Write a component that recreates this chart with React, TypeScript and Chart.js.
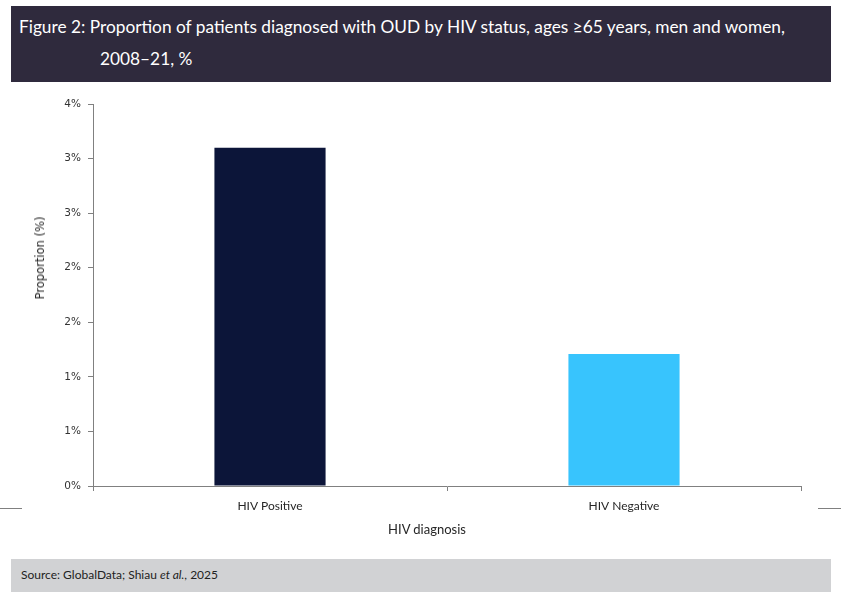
import React, { useEffect, useRef } from "react";
import { Chart, registerables } from "chart.js";

Chart.register(...registerables);

const categories = ["HIV Positive", "HIV Negative"];
const proportions = [3.1, 1.21];
const barColors = ["#0c1539", "#38c4fd"];
const yMax = 3.5;
const yStep = 0.5;
const titleLines = [
  "Figure 2: Proportion of patients diagnosed with OUD by HIV status, ages \u226565 years, men and women,",
  "2008\u201321, %",
];
const xAxisTitle = "HIV diagnosis";
const yAxisTitle = "Proportion (%)";

export default function App() {
  const ref = useRef<HTMLCanvasElement | null>(null);

  useEffect(() => {
    if (!ref.current) return;
    const chart = new Chart(ref.current, {
      type: "bar",
      data: {
        labels: categories,
        datasets: [
          {
            data: proportions,
            backgroundColor: barColors,
            borderWidth: 0,
            categoryPercentage: 1,
            barPercentage: 0.314,
          },
        ],
      },
      options: {
        responsive: false,
        animation: false,
        events: [],
        layout: { padding: { left: 0, right: 40, top: 14, bottom: 0 } },
        plugins: { legend: { display: false }, tooltip: { enabled: false } },
        scales: {
          x: {
            offset: true,
            grid: {
              display: true,
              offset: true,
              drawOnChartArea: false,
              drawTicks: true,
              tickLength: 5,
              color: "#808080",
            },
            border: { display: true, color: "#808080", width: 1 },
            ticks: {
              color: "#262626",
              padding: 8,
              font: { family: "Lato", size: 12 },
            },
            afterFit: (s: any) => {
              s.height = 64;
            },
          },
          y: {
            min: 0,
            max: yMax,
            grid: {
              display: true,
              drawOnChartArea: false,
              drawTicks: true,
              tickLength: 5,
              color: "#808080",
            },
            border: { display: true, color: "#808080", width: 1 },
            ticks: {
              stepSize: yStep,
              color: "#333333",
              padding: 7,
              font: { family: "DejaVu Sans", size: 10.5 },
              callback: (v: any) => Math.round(Number(v)) + "%",
            },
            afterFit: (s: any) => {
              s.width = 93;
            },
          },
        },
      },
    });
    return () => chart.destroy();
  }, []);

  return (
    <div
      style={{
        position: "absolute",
        left: 0,
        top: 0,
        width: 841,
        height: 594,
        background: "#ffffff",
        overflow: "hidden",
      }}
    >
      <div
        style={{
          position: "absolute",
          left: 11,
          top: 6,
          width: 820,
          height: 76,
          background: "#2f2a3d",
          color: "#ffffff",
          fontFamily: "Lato, sans-serif",
          fontSize: 17.3,
        }}
      >
        <div style={{ position: "absolute", left: 8, top: 10, whiteSpace: "nowrap" }}>{titleLines[0]}</div>
        <div style={{ position: "absolute", left: 89, top: 42, whiteSpace: "nowrap" }}>{titleLines[1]}</div>
      </div>
      <canvas
        ref={ref}
        width={841}
        height={460}
        style={{ position: "absolute", left: 0, top: 90, width: 841, height: 460 }}
      />
      <div
        style={{
          position: "absolute",
          left: 40,
          top: 258,
          transform: "translate(-50%, -50%) rotate(-90deg)",
          fontFamily: "DejaVu Sans, sans-serif",
          fontSize: 11.5,
          color: "#262626",
          whiteSpace: "nowrap",
        }}
      >
        {yAxisTitle}
      </div>
      <div
        style={{
          position: "absolute",
          left: 427,
          top: 529,
          transform: "translate(-50%, -50%)",
          fontFamily: "Lato, sans-serif",
          fontSize: 13,
          color: "#262626",
          whiteSpace: "nowrap",
        }}
      >
        {xAxisTitle}
      </div>
      <div style={{ position: "absolute", left: 0, top: 508, width: 22, height: 1, background: "#808080" }} />
      <div style={{ position: "absolute", left: 818, top: 508, width: 23, height: 1, background: "#808080" }} />
      <div
        style={{
          position: "absolute",
          left: 11,
          top: 559,
          width: 820,
          height: 33,
          background: "#d1d2d4",
          fontFamily: "Lato, sans-serif",
          fontSize: 12,
          color: "#222222",
        }}
      >
        <div style={{ position: "absolute", left: 10, top: 8, whiteSpace: "nowrap" }}>
          Source: GlobalData; Shiau <i>et al.</i>, 2025
        </div>
      </div>
    </div>
  );
}
